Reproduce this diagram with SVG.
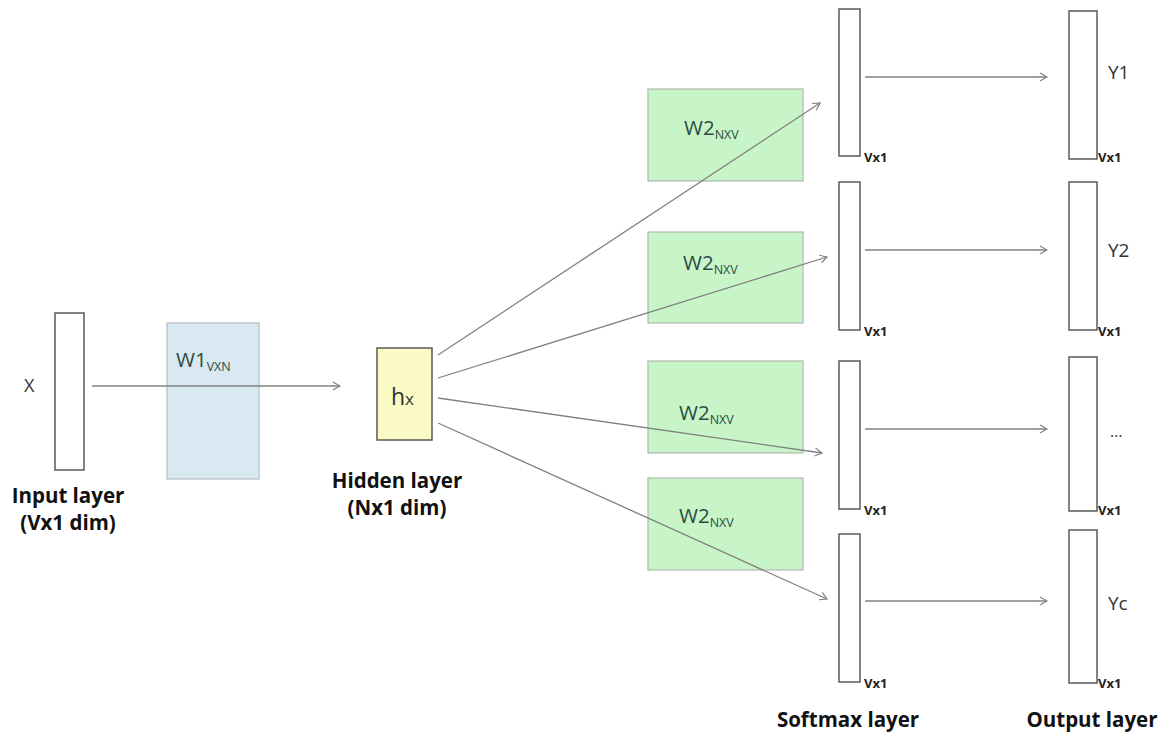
<svg xmlns="http://www.w3.org/2000/svg" width="1162" height="735" viewBox="0 0 1162 735">
<defs>
<marker id="arr" markerWidth="10" markerHeight="10" refX="9" refY="5" orient="auto" markerUnits="userSpaceOnUse">
<path d="M2,1 L9,5 L2,9" fill="none" stroke="#808080" stroke-width="1.2"/>
</marker>
<style>
.vec{fill:#ffffff;stroke:#5a5a5a;stroke-width:1.5}
.w2{fill:#c8f5c8;stroke:#b0b8b0;stroke-width:1.2}
.w1{fill:#d8e9f1;stroke:#b5bcc0;stroke-width:1.2}
.hid{fill:#fafac4;stroke:#5a5a5a;stroke-width:1.5}
.conn{stroke:#808080;stroke-width:1.3;fill:none;marker-end:url(#arr)}
.t{font-family:"Open Sans","Liberation Sans",sans-serif;fill:#333}
.lbl{font-family:"Open Sans","Liberation Sans",sans-serif;font-weight:bold;font-size:20.5px;fill:#111;text-anchor:middle}
.dim{font-family:"Open Sans","Liberation Sans",sans-serif;font-weight:bold;font-size:13px;fill:#222}
.wt{font-family:"Open Sans","Liberation Sans",sans-serif;font-size:20.5px;fill:#2c4a44}
.sub{font-size:12.5px}
</style>
</defs>
<g id="input">
<rect class="vec" x="55" y="313" width="29" height="157"/>
<text class="t" x="24" y="392" font-size="18">X</text>
<text class="lbl" x="68" y="503">Input layer</text>
<text class="lbl" x="68" y="530">(Vx1 dim)</text>
</g>
<g id="w1">
<rect class="w1" x="167" y="323" width="92" height="156"/>
<text class="wt" x="176" y="367" font-size="21.5">W1<tspan class="sub" dy="4" font-size="13">VXN</tspan></text>
</g>
<g id="hidden">
<rect class="hid" x="377" y="348" width="55" height="92"/>
<text class="t" x="391" y="405" font-size="23" fill="#222">h<tspan font-size="17">x</tspan></text>
<text class="lbl" x="397" y="488">Hidden layer</text>
<text class="lbl" x="397" y="515">(Nx1 dim)</text>
</g>
<g id="w2a"><rect class="w2" x="648" y="89" width="155" height="92"/><text class="wt" x="684" y="135">W2<tspan class="sub" dy="4">NXV</tspan></text></g>
<g id="w2b"><rect class="w2" x="648" y="232" width="155" height="91"/><text class="wt" x="683" y="270">W2<tspan class="sub" dy="4">NXV</tspan></text></g>
<g id="w2c"><rect class="w2" x="648" y="361" width="155" height="92"/><text class="wt" x="679" y="420">W2<tspan class="sub" dy="4">NXV</tspan></text></g>
<g id="w2d"><rect class="w2" x="648" y="478" width="155" height="92"/><text class="wt" x="679" y="523">W2<tspan class="sub" dy="4">NXV</tspan></text></g>
<g id="softmax1"><rect class="vec" x="839" y="9" width="21" height="147"/><text class="dim" x="864" y="162">Vx1</text></g>
<g id="softmax2"><rect class="vec" x="839" y="182" width="21" height="148"/><text class="dim" x="864" y="336">Vx1</text></g>
<g id="softmax3"><rect class="vec" x="839" y="361" width="21" height="148"/><text class="dim" x="864" y="515">Vx1</text></g>
<g id="softmax4"><rect class="vec" x="839" y="534" width="21" height="148"/><text class="dim" x="864" y="688">Vx1</text></g>
<g id="output1"><rect class="vec" x="1069" y="11" width="28" height="148"/><text class="dim" x="1098" y="162">Vx1</text><text class="t" x="1108" y="79" font-size="19">Y1</text></g>
<g id="output2"><rect class="vec" x="1069" y="182" width="28" height="148"/><text class="dim" x="1098" y="336">Vx1</text><text class="t" x="1108" y="257" font-size="19">Y2</text></g>
<g id="output3"><rect class="vec" x="1069" y="357" width="28" height="154"/><text class="dim" x="1098" y="515">Vx1</text><text class="t" x="1110" y="437" font-size="16">…</text></g>
<g id="output4"><rect class="vec" x="1069" y="530" width="28" height="153"/><text class="dim" x="1098" y="688">Vx1</text><text class="t" x="1108" y="610" font-size="19">Yc</text></g>
<g id="layer-labels">
<text class="lbl" x="848" y="727">Softmax layer</text>
<text class="lbl" x="1092" y="727">Output layer</text>
</g>
<g id="connectors">
<line class="conn" x1="92" y1="386" x2="340" y2="386"/>
<line class="conn" x1="438" y1="355" x2="820" y2="103"/>
<line class="conn" x1="438" y1="378" x2="827" y2="257"/>
<line class="conn" x1="438" y1="398" x2="822" y2="453"/>
<line class="conn" x1="438" y1="423" x2="827" y2="599"/>
<line class="conn" x1="865" y1="77" x2="1047" y2="77"/>
<line class="conn" x1="865" y1="250" x2="1047" y2="250"/>
<line class="conn" x1="865" y1="429" x2="1047" y2="429"/>
<line class="conn" x1="865" y1="601" x2="1047" y2="601"/>
</g>
</svg>
